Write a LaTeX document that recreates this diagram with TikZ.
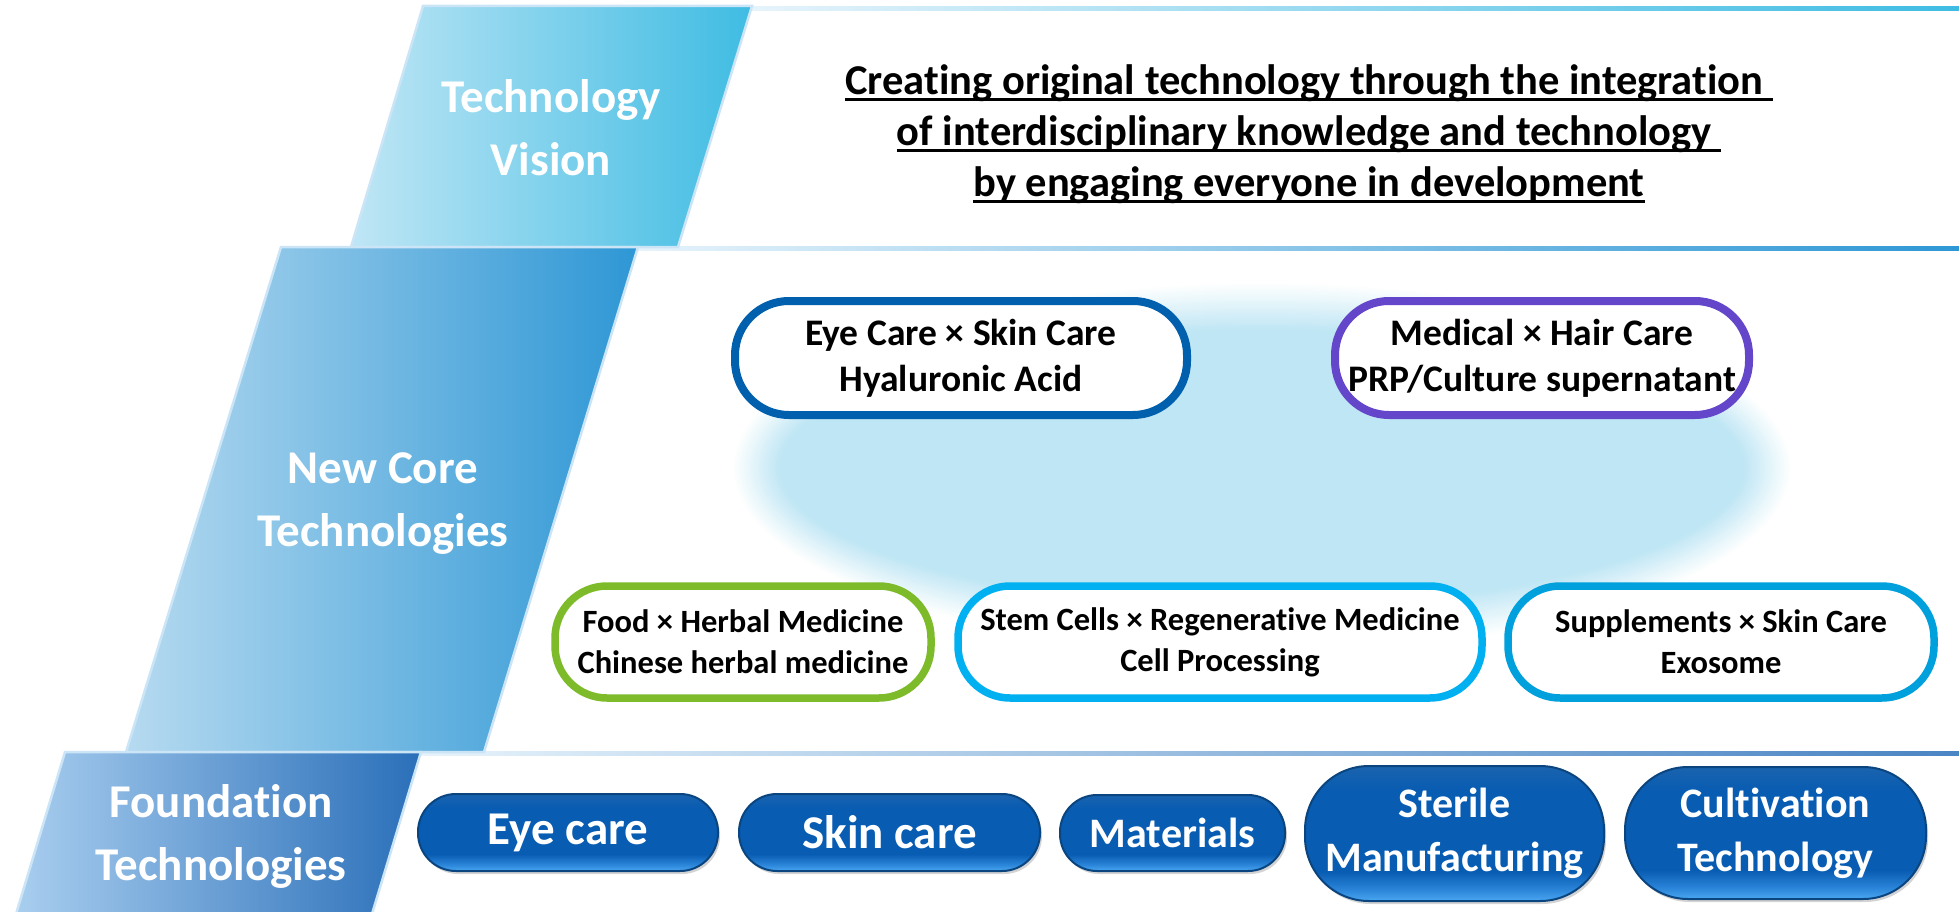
\documentclass[tikz,border=0pt]{standalone}
\usepackage{fontspec}
\setmainfont{Carlito}[Ligatures=NoCommon]
\usetikzlibrary{shadows}

% palette
\definecolor{visL}{HTML}{BFE6F5}
\definecolor{visR}{HTML}{3FBCE3}
\definecolor{coreL}{HTML}{B6DAF0}
\definecolor{coreR}{HTML}{2E97D5}
\definecolor{fndL}{HTML}{A9CEEF}
\definecolor{fndR}{HTML}{2A6FB9}
\definecolor{edgeC}{HTML}{CBE5F6}
\definecolor{ruleL}{HTML}{E6F3FB}
\definecolor{glowC}{HTML}{BEE6F4}
\definecolor{eyeC}{HTML}{0060AE}
\definecolor{hairC}{HTML}{6346C9}
\definecolor{foodC}{HTML}{7DBB2A}
\definecolor{stemC}{HTML}{00B0F0}
\definecolor{suppC}{HTML}{00A0DC}
\definecolor{pillTop}{HTML}{1A63AE}
\definecolor{pillMain}{HTML}{085CB2}
\definecolor{pillLow}{HTML}{2C86DA}
\definecolor{pillBot}{HTML}{4AA8F2}
\definecolor{pillEdge}{HTML}{0B4580}

% glossy fill of the foundation buttons (path box spans 25bp..75bp)
\pgfdeclareverticalshading{pillgloss}{100bp}{color(0bp)=(pillBot); color(25bp)=(pillBot); color(29bp)=(pillLow); color(36bp)=(pillMain); color(66bp)=(pillMain); color(75bp)=(pillTop); color(100bp)=(pillTop)}

% underline that also covers a trailing space
\newsavebox\ulinebox
\newcommand\ulin[1]{\sbox\ulinebox{#1}\rlap{\rule[-0.155em]{\wd\ulinebox}{0.06em}}\usebox\ulinebox}

\newcommand\fsTier{\bfseries\fontsize{47}{63}\selectfont}
\newcommand\fsVision{\bfseries\fontsize{42.5}{51}\selectfont}
\newcommand\fsUpper{\bfseries\fontsize{37.5}{46}\selectfont}
\newcommand\fsLower{\bfseries\fontsize{32.5}{41}\selectfont}
\newcommand\fsPillBig{\bfseries\fontsize{47}{54}\selectfont}
\newcommand\fsPill{\bfseries\fontsize{42}{54}\selectfont}

\begin{document}
\begin{tikzpicture}[x=1pt,y=-1pt,
  tier/.style={text=white, font=\fsTier, align=center},
  band/.style={draw=edgeC, line width=2.5},
  tagbox/.style={draw, fill=white, line width=8, rounded corners=54, inner sep=0,
    align=center, text=black, font=\fsUpper, minimum height=114},
  lowbox/.style={draw, fill=white, line width=7.5, rounded corners=52, inner sep=0,
    align=center, text=black, font=\fsLower, minimum height=112},
  pill/.style={shading=pillgloss, draw=pillEdge, line width=2, inner sep=0,
    align=center, text=white, font=\fsPill,
    drop shadow={shadow xshift=2pt, shadow yshift=-3pt, opacity=0.35}}
]
\useasboundingbox (0,0) rectangle (1959,912);

% soft glow behind the new core technologies
\foreach \k in {0,...,24} {
  \pgfmathtruncatemacro\pct{round(\k*100/24)}
  \fill[glowC!\pct!white] (1262,468) ellipse [x radius={482+(24-\k)*2}, y radius={138+(24-\k)*2}];
}

% tier rules
\shade[left color=ruleL, right color=visR] (752,7) rectangle (1959,11);
\shade[left color=ruleL, right color=coreR] (638,246) rectangle (1959,250);
\shade[left color=ruleL, right color=fndR!85] (421,751) rectangle (1959,755);

% tier bands
\shade[band, left color=visL, right color=visR] (423,6) -- (752,6) -- (678,247) -- (351,247) -- cycle;
\shade[band, left color=coreL, right color=coreR] (281,247) -- (638,247) -- (484,752) -- (126,752) -- cycle;
\shade[band, left color=fndL, right color=fndR] (65,752) -- (421,752) -- (372,914) -- (16,914) -- cycle;

\node[tier] (tv) at (551,128) {Technology\\Vision};
\node[tier] (nc) at (383,504) {New Core\\Technologies};
\node[tier] (ft) at (221,836) {Foundation\\Technologies};

% vision statement
\node[font=\fsVision, align=center] (vision) at (1309,134)
  {\ulin{Creating original technology through the integration\ }\\
   \ulin{of interdisciplinary knowledge and technology\ }\\
   \ulin{by engaging everyone in development}};

% new core technologies
\node[tagbox, draw=eyeC, minimum width=452] (eyeskin) at (961,358)
  {Eye Care × Skin Care\\Hyaluronic Acid};
\node[tagbox, draw=hairC, minimum width=414] (medhair) at (1542,358)
  {Medical × Hair Care\\PRP/Culture supernatant};
\node[lowbox, draw=foodC, minimum width=376] (food) at (743,642)
  {Food × Herbal Medicine\\Chinese herbal medicine};
\node[lowbox, draw=stemC, minimum width=524] (stem) at (1220,642)
  {Stem Cells × Regenerative Medicine\\Cell Processing};
\node[lowbox, draw=suppC, minimum width=426] (supp) at (1721,642)
  {Supplements × Skin Care\\Exosome};

% foundation technologies
\node[pill, font=\fsPillBig, minimum width=300, minimum height=77, rounded corners=38] (eyecare) at (568,832.5) {Eye care};
\node[pill, font=\fsPillBig, minimum width=301, minimum height=77, rounded corners=38] (skincare) at (889.5,832.5) {Skin care};
\node[pill, minimum width=225, minimum height=76, rounded corners=37] (materials) at (1172.5,833) {Materials};
\node[pill, minimum width=299, minimum height=135, rounded corners=64] (sterile) at (1454.5,833.5) {Sterile\\Manufacturing};
\node[pill, minimum width=301, minimum height=132, rounded corners=63] (cultivation) at (1775.5,833) {Cultivation\\Technology};
\end{tikzpicture}
\end{document}
